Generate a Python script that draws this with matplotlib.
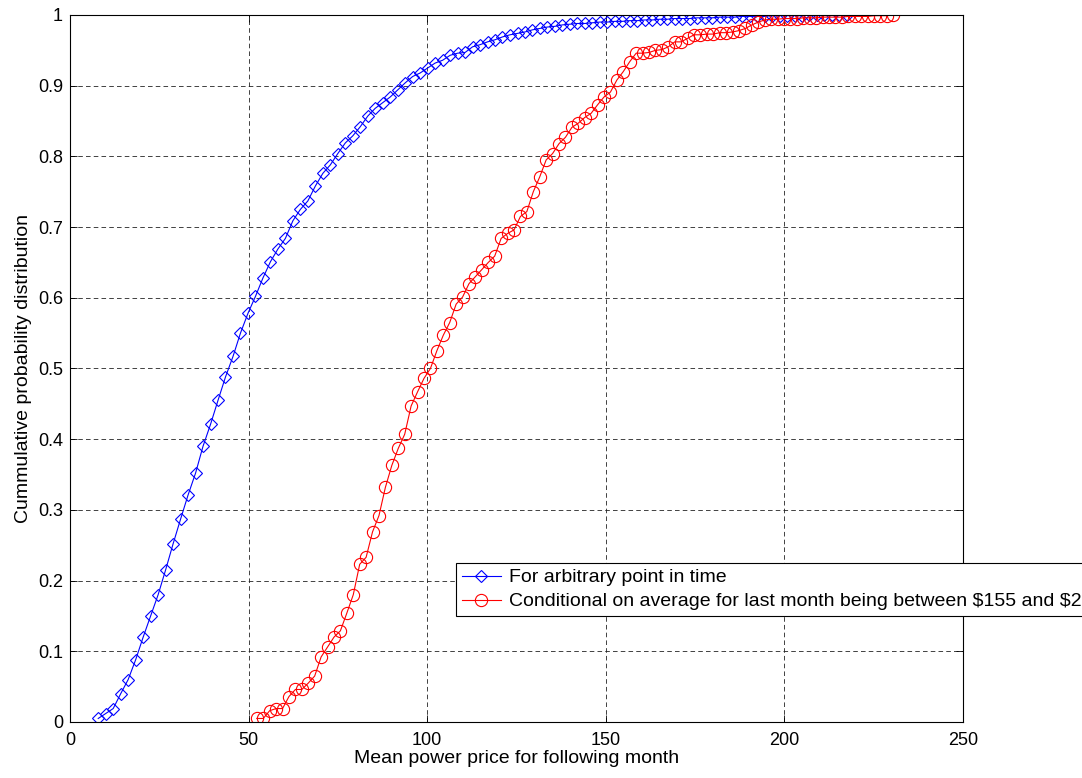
import matplotlib
matplotlib.use("Agg")
import matplotlib.pyplot as plt

plt.rcParams['font.family'] = ['Liberation Sans', 'DejaVu Sans']

# ---- data ----
blue_x0 = 7.9
blue_step = 2.096
blue_y = [0.005, 0.012, 0.019, 0.040, 0.060, 0.088, 0.120, 0.150, 0.180, 0.215,
          0.252, 0.287, 0.321, 0.352, 0.390, 0.421, 0.455,
          0.488, 0.517, 0.550, 0.578, 0.602, 0.628, 0.651, 0.669, 0.684, 0.709,
          0.725, 0.737, 0.758, 0.776, 0.788, 0.804, 0.819, 0.829, 0.842, 0.857,
          0.868, 0.876, 0.884, 0.894, 0.904, 0.913, 0.918, 0.925, 0.932, 0.936,
          0.943,
          0.946, 0.947, 0.955, 0.958, 0.962, 0.965, 0.969, 0.972, 0.974, 0.976,
          0.979, 0.981, 0.983, 0.984, 0.986,
          0.987, 0.988, 0.988, 0.989, 0.990, 0.990, 0.991, 0.991, 0.992, 0.992,
          0.993, 0.993, 0.994, 0.994, 0.995, 0.995, 0.995, 0.996, 0.996, 0.996,
          0.997, 0.997, 0.997, 0.998, 0.998, 0.998, 0.998, 0.999, 0.999, 0.999,
          0.999, 0.999, 1.0, 1.0, 1.0, 1.0, 1.0, 1.0]
blue_x = [round(blue_x0 + blue_step * i, 2) for i in range(len(blue_y))]

red_x0 = 52.3
red_step = 1.8
red_y = [0.005, 0.005, 0.016, 0.019, 0.019, 0.036, 0.046, 0.046, 0.055, 0.065,
         0.092, 0.106, 0.120, 0.129, 0.154, 0.180, 0.223, 0.233, 0.269, 0.292,
         0.332, 0.363, 0.387, 0.407, 0.447, 0.467, 0.486, 0.500, 0.525, 0.547,
         0.565, 0.591, 0.601, 0.620, 0.630, 0.640, 0.650, 0.659, 0.684, 0.691,
         0.696, 0.715, 0.722, 0.750, 0.771, 0.795, 0.804, 0.818, 0.827, 0.841,
         0.847, 0.855, 0.861, 0.873, 0.884, 0.891, 0.908, 0.920, 0.934, 0.946,
         0.946, 0.947, 0.950, 0.951, 0.955, 0.962, 0.962, 0.967, 0.972, 0.972,
         0.973, 0.973, 0.975, 0.975, 0.976, 0.978, 0.981, 0.986, 0.990, 0.993,
         0.994, 0.994, 0.995, 0.995, 0.995, 0.996, 0.996, 0.996, 0.997, 0.997,
         0.997, 0.997, 0.998, 0.998, 0.998, 0.998, 0.999, 0.999, 0.999, 1.0]
red_x = [round(red_x0 + red_step * i, 2) for i in range(len(red_y))]

x_ticks = [0, 50, 100, 150, 200, 250]
y_ticks = [0, 0.1, 0.2, 0.3, 0.4, 0.5, 0.6, 0.7, 0.8, 0.9, 1]
y_tick_labels = ['0', '0.1', '0.2', '0.3', '0.4', '0.5', '0.6', '0.7', '0.8', '0.9', '1']
label_blue = 'For arbitrary point in time'
label_red = r'Conditional on average for last month being between \$155 and \$205'

# ---- figure ----
fig = plt.figure(figsize=(10.82, 7.78), dpi=100)
ax = fig.add_axes([70 / 1082, 56 / 778, 893 / 1082, 707 / 778])

ax.plot(blue_x, blue_y, color=(0, 0, 1), lw=0.8, marker='D', ms=6.2,
        mfc='none', mec=(0, 0, 1), mew=0.8, label=label_blue)
ax.plot(red_x, red_y, color=(1, 0, 0), lw=0.8, marker='o', ms=8.8,
        mfc='none', mec=(1, 0, 0), mew=0.8, label=label_red)

ax.set_xlim(0, 250)
ax.set_ylim(0, 1)
ax.set_xticks(x_ticks)
ax.set_yticks(y_ticks)
ax.set_yticklabels(y_tick_labels)
ax.tick_params(direction='in', top=True, right=True, length=5, width=0.6,
               labelsize=13, pad=5)
ax.tick_params(axis='x', pad=7)
for sp in ax.spines.values():
    sp.set_linewidth(0.8)
ax.grid(True, color='#222222', lw=0.6, linestyle=(0, (5.5, 3.8)))

ax.set_xlabel('Mean power price for following month', fontsize=14, labelpad=1)
ax.set_ylabel('Cummulative probability distribution', fontsize=14, labelpad=4)

leg = ax.legend(loc='upper left', bbox_to_anchor=((456 - 70) / 893, (722 - 563) / 707),
                borderaxespad=0, fancybox=False, framealpha=1, edgecolor='k',
                fontsize=14, handlelength=2.0, handletextpad=0.45,
                borderpad=0.3, labelspacing=0.33)
leg.get_frame().set_linewidth(0.8)

fig.savefig('out.png', dpi=100)
